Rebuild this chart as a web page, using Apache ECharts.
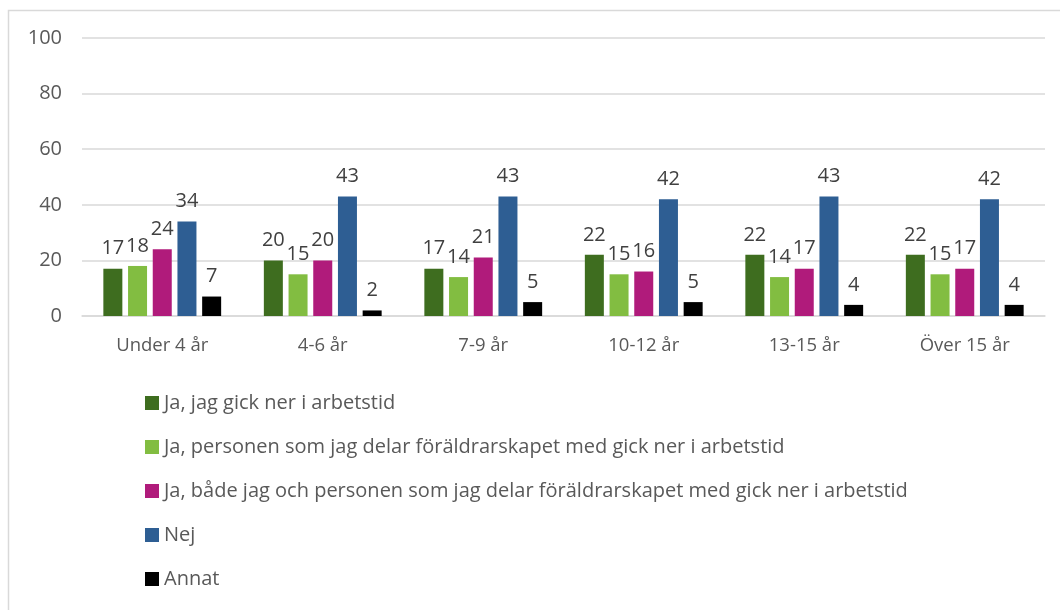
<!DOCTYPE html>
<html><head><meta charset="utf-8">
<script src="https://cdn.jsdelivr.net/npm/echarts@6/dist/echarts.min.js"></script>
<style>html,body{margin:0;padding:0;background:#fff}#c{width:1060px;height:610px}</style>
</head><body><div id="c"></div>
<script>
const categories = ["Under 4 år", "4-6 år", "7-9 år", "10-12 år", "13-15 år", "Över 15 år"];
const seriesNames = [
  "Ja, jag gick ner i arbetstid",
  "Ja, personen som jag delar föräldrarskapet med gick ner i arbetstid",
  "Ja, både jag och personen som jag delar föräldrarskapet med gick ner i arbetstid",
  "Nej",
  "Annat"
];
const jaJag = [17, 20, 17, 22, 22, 22];
const jaPartner = [18, 15, 14, 15, 14, 15];
const jaBada = [24, 20, 21, 16, 17, 17];
const nej = [34, 43, 43, 42, 43, 42];
const annat = [7, 2, 5, 5, 4, 4];
const yTicks = {min: 0, max: 100, interval: 20};
const colors = ["#3e6d1f", "#82bd41", "#b01b7b", "#2e5e93", "#000000"];

const values = [jaJag, jaPartner, jaBada, nej, annat];
const chart = echarts.init(document.getElementById('c'));
chart.setOption({
  animation: false,
  textStyle: {fontFamily: "Open Sans"},
  graphic: [{type: 'rect', shape: {x: 8.5, y: 10.5, width: 1060, height: 620}, style: {fill: 'none', stroke: '#d9d9d9', lineWidth: 1.5}}],
  grid: {left: 82, right: 15, top: 38, bottom: 294},
  legend: {
    orient: 'vertical', left: 140, top: 387, itemWidth: 14, itemHeight: 14, itemGap: 22,
    icon: 'rect',
    textStyle: {fontSize: 20, color: '#595959', lineHeight: 22, fontFamily: "Open Sans"},
    data: seriesNames
  },
  xAxis: {
    type: 'category', data: categories,
    axisLine: {lineStyle: {color: '#d9d9d9', width: 1.5}},
    axisTick: {show: false},
    axisLabel: {fontSize: 18.5, color: '#595959', margin: 20}
  },
  yAxis: {
    type: 'value', min: yTicks.min, max: yTicks.max, interval: yTicks.interval,
    axisLabel: {fontSize: 20, color: '#595959', margin: 20},
    splitLine: {lineStyle: {color: '#d9d9d9', width: 1.5}},
    axisLine: {show: false}, axisTick: {show: false}
  },
  series: seriesNames.map((n, i) => ({
    name: n, type: 'bar', data: values[i], barWidth: 19, barGap: '30%',
    itemStyle: {color: colors[i]},
    label: {show: true, position: 'top', distance: 10, fontSize: 20, color: '#404040', fontFamily: "Open Sans"}
  }))
});
</script></body></html>
